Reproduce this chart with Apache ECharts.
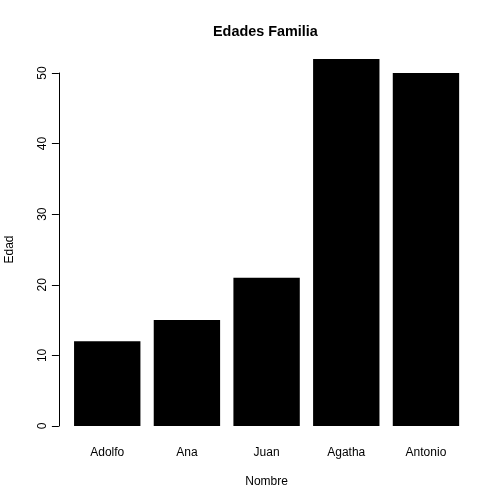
<!DOCTYPE html>
<html>
<head>
<meta charset="utf-8">
<script src="https://cdn.jsdelivr.net/npm/echarts@6/dist/echarts.min.js"></script>
<style>
  html, body { margin: 0; padding: 0; background: #fff; }
  #chart { width: 504px; height: 504px; }
</style>
</head>
<body>
<div id="chart"></div>
<script>
var nombres = ['Adolfo', 'Ana', 'Juan', 'Agatha', 'Antonio'];
var edades = [12, 15, 21, 52, 50];
var yTicks = { min: 0, max: 50, step: 10 };

var myChart = echarts.init(document.getElementById('chart'));
var font = 'Liberation Sans, Arial, sans-serif';

myChart.setOption({
  animation: false,
  backgroundColor: '#fff',
  title: {
    text: 'Edades Familia',
    left: 208,
    top: 20,
    textStyle: { fontFamily: font, fontSize: 14.4, fontWeight: 'bold', color: '#000' }
  },
  grid: {
    left: 67.4, right: 38.2, top: 73, bottom: 78,
    containLabel: false,
    outerBoundsMode: 'none'
  },
  xAxis: {
    type: 'category',
    data: nombres,
    name: 'Nombre',
    nameLocation: 'middle',
    nameGap: 50,
    nameTextStyle: { fontFamily: font, fontSize: 12, color: '#000' },
    axisLine: { show: false },
    axisTick: { show: false },
    axisLabel: { margin: 21, fontFamily: font, fontSize: 12, color: '#000' }
  },
  yAxis: {
    type: 'value',
    min: yTicks.min,
    max: yTicks.max,
    interval: yTicks.step,
    offset: 8.5,
    name: 'Edad',
    nameLocation: 'middle',
    nameGap: 43,
    nameTextStyle: { fontFamily: font, fontSize: 12, color: '#000' },
    splitLine: { show: false },
    axisLine: { show: true, lineStyle: { color: '#000', width: 1 } },
    axisTick: { show: true, length: 7, lineStyle: { color: '#000' } },
    axisLabel: { rotate: 90, margin: 10, fontFamily: font, fontSize: 12, color: '#000' }
  },
  series: [{
    type: 'bar',
    data: edades,
    clip: false,
    barCategoryGap: '16.7%',
    itemStyle: { color: '#000' }
  }]
});
</script>
</body>
</html>
